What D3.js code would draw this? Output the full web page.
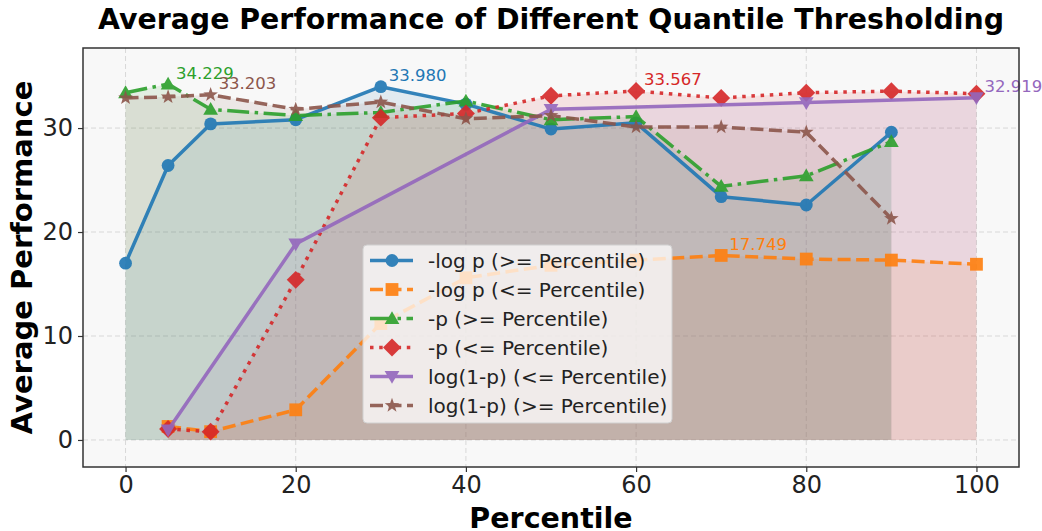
<!DOCTYPE html>
<html>
<head>
<meta charset="utf-8">
<script src="https://cdn.jsdelivr.net/npm/d3@7"></script>
<style>
  body { margin: 0; background: #fff; }
  text { font-family: "DejaVu Sans", sans-serif; }
</style>
</head>
<body>
<svg id="chart"></svg>
<script>
// Data
const percentileGe = [0, 5, 10, 20, 30, 40, 50, 60, 70, 80, 90];
const percentileLe = [5, 10, 20, 30, 40, 50, 60, 70, 80, 90, 100];
const percentileLog1p = [5, 20, 50, 80, 100];

const negLogPGe = [17.0, 26.4, 30.4, 30.8, 33.98, 32.3, 29.9, 30.5, 23.4, 22.6, 29.6];
const negLogPLe = [1.3, 0.8, 2.9, 11.2, 15.6, 16.8, 17.3, 17.749, 17.4, 17.3, 16.9];
const negPGe = [33.4, 34.229, 31.8, 31.2, 31.5, 32.6, 30.8, 31.1, 24.4, 25.4, 28.7];
const negPLe = [1.05, 0.8, 15.4, 31.0, 31.4, 33.1, 33.567, 32.9, 33.4, 33.55, 33.3];
const log1pLe = [0.96, 18.86, 31.8, 32.45, 32.919];
const log1pGe = [32.9, 33.0, 33.203, 31.8, 32.5, 30.9, 31.2, 30.1, 30.1, 29.6, 21.3];

const xTicks = [0, 20, 40, 60, 80, 100];
const yTicks = [0, 10, 20, 30];

const series = [
    {name: "-log p (>= Percentile)", xs: percentileGe, ys: negLogPGe, color: "#1f77b4", dash: null, marker: "circle"},
    {name: "-log p (<= Percentile)", xs: percentileLe, ys: negLogPLe, color: "#ff7f0e", dash: "13,5.5", marker: "square"},
    {name: "-p (>= Percentile)", xs: percentileGe, ys: negPGe, color: "#2ca02c", dash: "22,5.5,3.5,5.5", marker: "triangle"},
    {name: "-p (<= Percentile)", xs: percentileLe, ys: negPLe, color: "#d62728", dash: "3.5,5.7", marker: "diamond"},
    {name: "log(1-p) (<= Percentile)", xs: percentileLog1p, ys: log1pLe, color: "#9467bd", dash: null, marker: "triangleDown"},
    {name: "log(1-p) (>= Percentile)", xs: percentileGe, ys: log1pGe, color: "#8c564b", dash: "13,5.5", marker: "star"}
];

const width = 1042;
const height = 531;
const margin = {top: 48, right: 1019, bottom: 467, left: 83};

const svg = d3.select("#chart")
    .attr("width", width)
    .attr("height", height);

const x = d3.scaleLinear().domain([-5, 105]).range([margin.left, margin.right]);
const y = d3.scaleLinear().domain([-2.6, 37.7]).range([margin.bottom, margin.top]);

// Axes background
svg.append("rect")
    .attr("x", margin.left)
    .attr("y", margin.top)
    .attr("width", margin.right - margin.left)
    .attr("height", margin.bottom - margin.top)
    .attr("fill", "#f8f8f8");

// Grid
const grid = svg.append("g");
xTicks.forEach(t => {
    grid.append("line")
        .attr("x1", x(t)).attr("x2", x(t))
        .attr("y1", margin.top).attr("y2", margin.bottom)
        .attr("stroke", "#d8d8d8").attr("stroke-dasharray", "5,3").attr("stroke-width", 1);
});
yTicks.forEach(t => {
    grid.append("line")
        .attr("x1", margin.left).attr("x2", margin.right)
        .attr("y1", y(t)).attr("y2", y(t))
        .attr("stroke", "#d8d8d8").attr("stroke-dasharray", "5,3").attr("stroke-width", 1);
});

// Filled areas under each series
series.forEach(s => {
    const pts = s.xs.map((v, i) => [v, s.ys[i]]);
    svg.append("path")
        .datum(pts)
        .attr("fill", s.color)
        .attr("fill-opacity", 0.1)
        .attr("d", d3.area().x(d => x(d[0])).y0(y(0)).y1(d => y(d[1])));
});

// Marker shapes (matplotlib-like)
function markerPath(type, r) {
    switch (type) {
        case "circle":
            return d3.symbol(d3.symbolCircle, Math.PI * r * r)();
        case "square":
            return `M${-r},${-r}H${r}V${r}H${-r}Z`;
        case "triangle":
            return `M0,${-r * 1.15}L${r * 1.15},${r * 0.85}L${-r * 1.15},${r * 0.85}Z`;
        case "triangleDown":
            return `M0,${r * 1.15}L${r * 1.15},${-r * 0.85}L${-r * 1.15},${-r * 0.85}Z`;
        case "diamond":
            return `M0,${-r * 1.4}L${r * 1.4},0L0,${r * 1.4}L${-r * 1.4},0Z`;
        case "star": {
            let p = "";
            for (let k = 0; k < 10; k++) {
                const a = -Math.PI / 2 + k * Math.PI / 5;
                const rr = k % 2 === 0 ? r * 1.2 : r * 0.48;
                p += (k === 0 ? "M" : "L") + (rr * Math.cos(a)).toFixed(2) + "," + (rr * Math.sin(a)).toFixed(2);
            }
            return p + "Z";
        }
    }
}

const markerR = 6.4;

// Lines and markers
series.forEach(s => {
    const pts = s.xs.map((v, i) => [v, s.ys[i]]);
    const g = svg.append("g").attr("opacity", 0.9);
    g.append("path")
        .datum(pts)
        .attr("fill", "none")
        .attr("stroke", s.color)
        .attr("stroke-width", 3.5)
        .attr("stroke-dasharray", s.dash)
        .attr("stroke-linejoin", "round")
        .attr("d", d3.line().x(d => x(d[0])).y(d => y(d[1])));
    g.selectAll("path.mk")
        .data(pts)
        .enter()
        .append("path")
        .attr("class", "mk")
        .attr("transform", d => `translate(${x(d[0])},${y(d[1])})`)
        .attr("d", markerPath(s.marker, markerR))
        .attr("fill", s.color);
});

// Max value annotations
series.forEach(s => {
    const i = d3.maxIndex(s.ys);
    svg.append("text")
        .attr("x", x(s.xs[i]) + 8)
        .attr("y", y(s.ys[i]) - 5.5)
        .attr("fill", s.color)
        .style("font-size", "16.5px")
        .text(s.ys[i].toFixed(3));
});

// Axes
const xAxis = svg.append("g")
    .attr("transform", `translate(0,${margin.bottom})`)
    .call(d3.axisBottom(x).tickValues(xTicks).tickSize(5).tickPadding(4).tickSizeOuter(0));
const yAxis = svg.append("g")
    .attr("transform", `translate(${margin.left},0)`)
    .call(d3.axisLeft(y).tickValues(yTicks).tickSize(5).tickPadding(5).tickSizeOuter(0));
[xAxis, yAxis].forEach(a => {
    a.select(".domain").remove();
    a.selectAll("text").style("font-size", "24px").style("font-family", "DejaVu Sans").attr("fill", "#222");
    a.selectAll("line").attr("stroke", "#333").attr("stroke-width", 1.2);
});

// Frame
svg.append("rect")
    .attr("x", margin.left)
    .attr("y", margin.top)
    .attr("width", margin.right - margin.left)
    .attr("height", margin.bottom - margin.top)
    .attr("fill", "none")
    .attr("stroke", "#333")
    .attr("stroke-width", 1.5);

// Legend
const legend = svg.append("g").attr("transform", "translate(363,245)");
legend.append("rect")
    .attr("width", 309)
    .attr("height", 178)
    .attr("rx", 4)
    .attr("fill", "#ffffff")
    .attr("fill-opacity", 0.75)
    .attr("stroke", "#d0d0d0")
    .attr("stroke-width", 1);
series.forEach((s, i) => {
    const cy = 15.5 + i * 29;
    const h = legend.append("g").attr("opacity", 0.9);
    h.append("line")
        .attr("x1", 7).attr("x2", 50)
        .attr("y1", cy).attr("y2", cy)
        .attr("stroke", s.color)
        .attr("stroke-width", 3.5)
        .attr("stroke-dasharray", s.dash);
    h.append("path")
        .attr("transform", `translate(29,${cy})`)
        .attr("d", markerPath(s.marker, markerR))
        .attr("fill", s.color);
    legend.append("text")
        .attr("x", 65)
        .attr("y", cy)
        .attr("dy", "0.36em")
        .attr("fill", "#222")
        .style("font-size", "20px")
        .text(s.name);
});

// Title and axis labels
svg.append("text")
    .attr("x", (margin.left + margin.right) / 2)
    .attr("y", 29)
    .style("text-anchor", "middle")
    .style("font-size", "28.4px")
    .style("font-weight", "bold")
    .text("Average Performance of Different Quantile Thresholding");

svg.append("text")
    .attr("x", (margin.left + margin.right) / 2)
    .attr("y", 528)
    .style("text-anchor", "middle")
    .style("font-size", "28.5px")
    .style("font-weight", "bold")
    .text("Percentile");

svg.append("text")
    .attr("transform", "rotate(-90)")
    .attr("x", -(margin.top + margin.bottom) / 2)
    .attr("y", 32)
    .style("text-anchor", "middle")
    .style("font-size", "29px")
    .style("font-weight", "bold")
    .text("Average Performance");
</script>
</body>
</html>
